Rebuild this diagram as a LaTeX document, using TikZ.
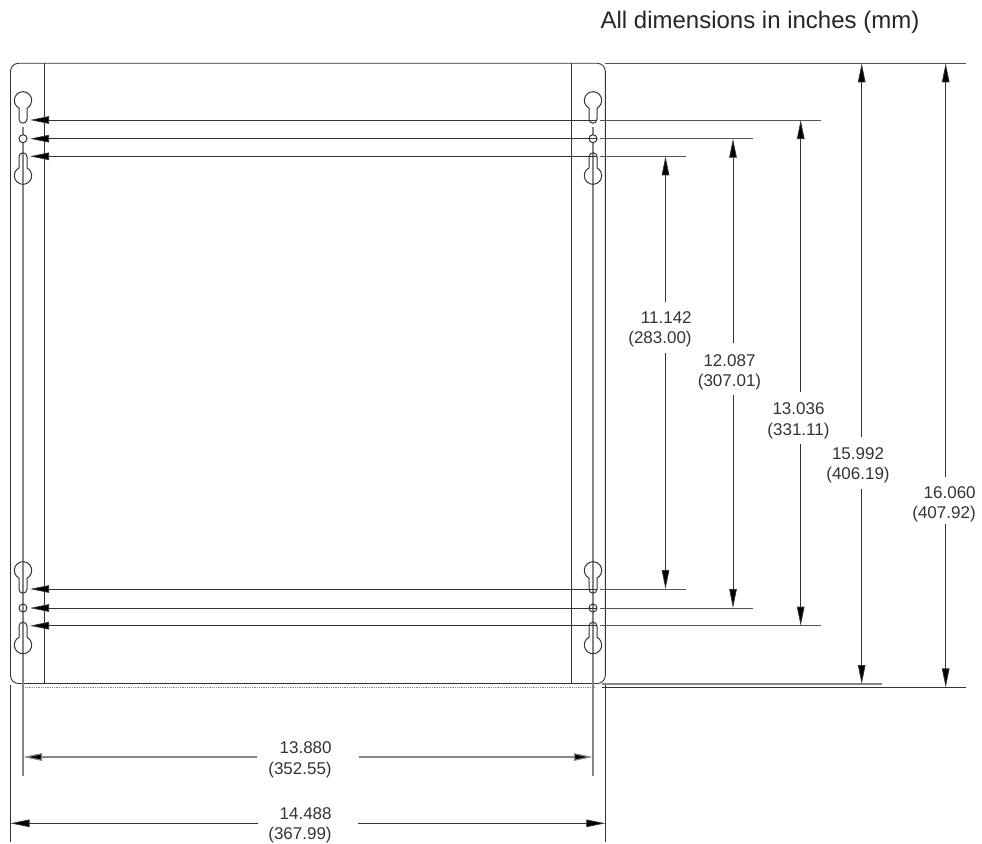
\documentclass[tikz,border=0pt]{standalone}
\usepackage{fontspec}
\setmainfont{Liberation Sans}
\usepackage{tikz}
\usetikzlibrary{arrows.meta}
\tikzset{>={Triangle[width=7.5pt,length=19pt,fill=black]}}
\definecolor{darkline}{HTML}{333333}
\definecolor{midline}{HTML}{555555}
\definecolor{greyline}{HTML}{858585}
\tikzset{
  panel/.style={draw=darkline, line width=0.9pt},
  hole/.style={draw=darkline, line width=1pt},
  centre/.style={draw=greyline, line width=1.1pt},
  ext/.style={draw=midline, line width=0.9pt},
  extgrey/.style={draw=greyline, line width=1.1pt},
  dimline/.style={draw=darkline, line width=0.8pt, ->},
  dimgrey/.style={draw=greyline, line width=1.2pt, ->},
  dimtext/.style={text=darkline, font=\fontsize{17}{20.5}\selectfont, inner sep=0pt}
}
% slot of the keyhole goes down for 1, up for -1
\newcommand\Keyhole[3]{
\begin{scope}[shift={(#1,#2)},yscale=#3]
\draw[hole] (-4,7.7) arc[start angle=117.4, end angle=422.6, radius=8.7]
  -- (4,18.8) arc[start angle=0, end angle=180, radius=4] -- cycle;
\end{scope}
}
\begin{document}
\begin{tikzpicture}[x=1pt,y=-1pt]
\useasboundingbox (0,0) rectangle (982,843);

\node[font=\fontsize{24}{28}\selectfont, text=black!85] (title) at (760,22) {All dimensions in inches (mm)};

\coordinate (panelTL) at (10.5,63.3);
\coordinate (panelBR) at (605.3,683.5);
\draw[panel, rounded corners=8pt] (panelTL) rectangle (panelBR);

% inner flanges
\coordinate (flangeLt) at (44.7,63.3);
\coordinate (flangeLb) at (44.7,683.5);
\coordinate (flangeRt) at (571.3,63.3);
\coordinate (flangeRb) at (571.3,683.5);
\draw[panel] (flangeLt) -- (flangeLb);
\draw[panel] (flangeRt) -- (flangeRb);

% hole centre lines
\coordinate (centreLt) at (23,127);
\coordinate (centreLb) at (23,776);
\coordinate (centreRt) at (593,127);
\coordinate (centreRb) at (593,776);
\draw[centre] (centreLt) -- (centreLb);
\draw[centre] (centreRt) -- (centreRb);

% holes
\Keyhole{23}{100.4}{1}
\Keyhole{23}{175.6}{-1}
\Keyhole{23}{570.4}{1}
\Keyhole{23}{645}{-1}
\Keyhole{593}{100.4}{1}
\Keyhole{593}{175.6}{-1}
\Keyhole{593}{570.4}{1}
\Keyhole{593}{645}{-1}
\draw[hole, fill=white] (23,138.7) circle[radius=4];
\draw[hole, fill=white] (593,138.7) circle[radius=4];
\draw[hole] (23,608) circle[radius=4];
\draw[hole] (593,608) circle[radius=4];

% arrows onto the holes
\coordinate (tipA) at (30,120);
\coordinate (gapA) at (597.3,120);
\coordinate (extA) at (600.3,120);
\coordinate (endA) at (821,120);
\coordinate (tipB) at (30,138.7);
\coordinate (gapB) at (597.3,138.7);
\coordinate (extB) at (600.3,138.7);
\coordinate (endB) at (753,138.7);
\coordinate (tipC) at (30,156.3);
\coordinate (gapC) at (597.3,156.3);
\coordinate (extC) at (600.3,156.3);
\coordinate (endC) at (686,156.3);
\coordinate (tipD) at (30,589);
\coordinate (gapD) at (597.3,589);
\coordinate (extD) at (600.3,589);
\coordinate (endD) at (686,589);
\coordinate (tipE) at (30,608);
\coordinate (gapE) at (597.3,608);
\coordinate (extE) at (600.3,608);
\coordinate (endE) at (753,608);
\coordinate (tipF) at (30,625.7);
\coordinate (gapF) at (597.3,625.7);
\coordinate (extF) at (600.3,625.7);
\coordinate (endF) at (821,625.7);

\draw[dimline, <-] (tipA) -- (gapA);
\draw[ext] (extA) -- (endA);
\draw[dimline, <-] (tipB) -- (gapB);
\draw[ext] (extB) -- (endB);
\draw[dimline, <-] (tipC) -- (gapC);
\draw[ext] (extC) -- (endC);
\draw[dimline, <-] (tipD) -- (gapD);
\draw[ext] (extD) -- (endD);
\draw[dimline, <-] (tipE) -- (gapE);
\draw[ext] (extE) -- (endE);
\draw[dimline, <-] (tipF) -- (gapF);
\draw[ext] (extF) -- (endF);

% outer extension lines
\coordinate (topS) at (605,63.3);
\coordinate (topE) at (966,63.3);
\coordinate (botS) at (601.7,684);
\coordinate (botE) at (882,684);
\coordinate (lowS) at (601.7,687.4);
\coordinate (lowE) at (966,687.4);
\coordinate (dotS) at (25,687.4);
\coordinate (dotE) at (595,687.4);
\draw[ext] (topS) -- (topE);
\draw[extgrey] (botS) -- (botE);
\draw[panel] (lowS) -- (lowE);
\draw[draw=greyline, line width=0.8pt, densely dotted] (dotS) -- (dotE);

\coordinate (sideLt) at (10.5,685);
\coordinate (sideLb) at (10.5,842);
\coordinate (sideRt) at (605.3,685);
\coordinate (sideRb) at (605.3,842);
\draw[panel] (sideLt) -- (sideLb);
\draw[panel] (sideRt) -- (sideRb);

% vertical dimensions
\node[dimtext, align=right] (dimA) at (660,329.5) {11.142\\(283.00)};
\node[dimtext, align=center] (dimB) at (729.5,372.5) {12.087\\(307.01)};
\node[dimtext, align=center] (dimC) at (798.5,421) {13.036\\(331.11)};
\node[dimtext, align=center] (dimD) at (858,465.5) {15.992\\(406.19)};
\node[dimtext, align=right] (dimE) at (944,504.5) {16.060\\(407.92)};

\coordinate (upA) at (665.5,302);
\coordinate (dnA) at (665.5,353);
\coordinate (upB) at (733,343);
\coordinate (dnB) at (733,395);
\coordinate (upC) at (800.7,392);
\coordinate (dnC) at (800.7,444);
\coordinate (upD) at (861.7,437);
\coordinate (dnD) at (861.7,489);
\coordinate (upE) at (945.7,476.7);
\coordinate (dnE) at (945.7,524);

\draw[dimline] (upA) -- (upA |- endC);
\draw[dimline] (dnA) -- (dnA |- endD);
\draw[dimline] (upB) -- (upB |- endB);
\draw[dimline] (dnB) -- (dnB |- endE);
\draw[dimline] (upC) -- (upC |- endA);
\draw[dimline] (dnC) -- (dnC |- endF);
\draw[dimline] (upD) -- (upD |- topE);
\draw[dimline] (dnD) -- (dnD |- botE);
\draw[dimline] (upE) -- (upE |- topE);
\draw[dimline] (dnE) -- (dnE |- lowE);

% horizontal dimensions
\node[dimtext, align=right] (dimF) at (300,760) {13.880\\(352.55)};
\node[dimtext, align=right] (dimG) at (300,825.5) {14.488\\(367.99)};

\coordinate (ltF) at (256.7,757);
\coordinate (rtF) at (359,757);
\coordinate (ltG) at (258,823.3);
\coordinate (rtG) at (358,823.3);

\draw[dimgrey] (ltF) -- (ltF -| centreLb);
\draw[dimgrey] (rtF) -- (rtF -| centreRb);
\draw[dimline] (ltG) -- (ltG -| sideLb);
\draw[dimline] (rtG) -- (rtG -| sideRb);
\end{tikzpicture}
\end{document}
